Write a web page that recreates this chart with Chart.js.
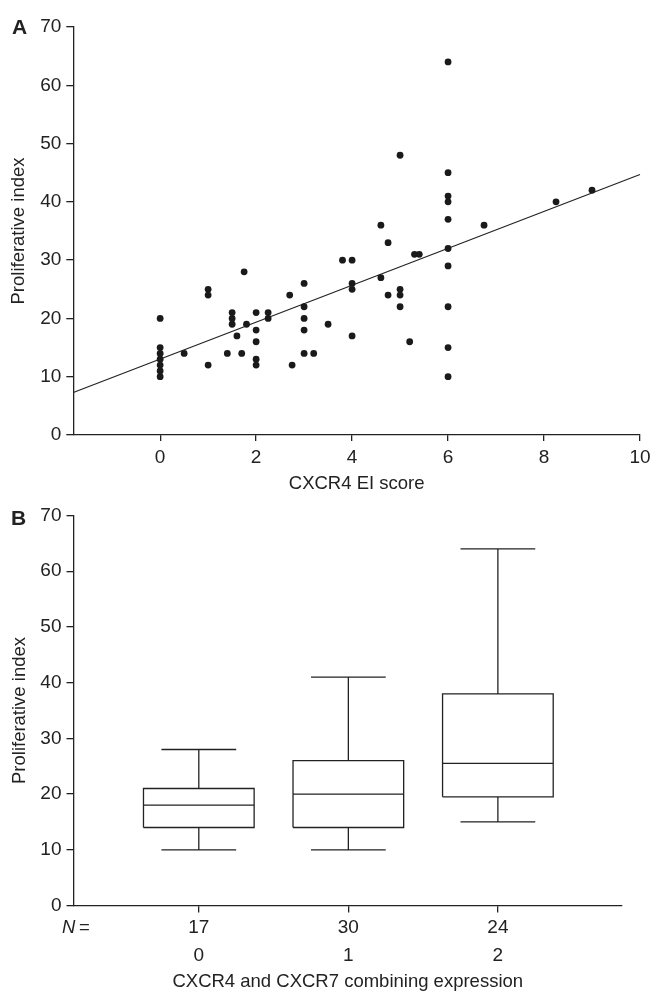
<!DOCTYPE html>
<html>
<head>
<meta charset="utf-8">
<script src="https://cdn.jsdelivr.net/npm/chart.js@4/dist/chart.umd.min.js"></script>
<style>
  html, body { margin: 0; padding: 0; background: #fff; }
  body { width: 652px; height: 992px; position: relative; overflow: hidden;
         font-family: "Liberation Sans", Arial, sans-serif; color: #222; }
  .cv { position: absolute; left: 0; }
  .panel { position: absolute; font-weight: bold; font-size: 21px; line-height: 21px; }
  .nlab { position: absolute; font-size: 18.5px; line-height: 18.5px; white-space: nowrap; }
</style>
</head>
<body>
<div class="cv" style="top:0;width:652px;height:496px;"><canvas id="chartA" width="652" height="496"></canvas></div>
<div class="cv" style="top:496px;width:652px;height:496px;"><canvas id="chartB" width="652" height="496"></canvas></div>
<div class="panel" style="left:12px;top:15.5px;">A</div>
<div class="panel" style="left:11px;top:506.5px;">B</div>
<div class="nlab" style="left:62px;top:917.5px;"><i>N</i>&thinsp;=</div>
<script>
// ---------- Panel A data: CXCR4 EI score vs proliferative index ----------
const eiScore = [
  0,0,0,0,0,0,0, 0.5, 1,1,1, 1.4, 1.5,1.5,1.5, 1.6, 1.7, 1.75, 1.8,
  2,2,2,2,2, 2.25,2.25, 2.7, 2.75, 3,3,3,3,3, 3.2, 3.5, 3.8, 4,4,4,4,
  4.6,4.6, 4.75,4.75, 5,5,5,5, 5.2, 5.3, 5.4,
  6,6,6,6,6,6,6,6,6,6, 6.75, 8.25, 9
];
const prolifIndex = [
  20,15,14,13,12,11,10, 14, 25,24,12, 14, 21,20,19, 17, 14, 28, 19,
  21,18,16,13,12, 21,20, 24, 12, 26,22,20,18,14, 14, 19, 30, 30,26,25,17,
  36,27, 33,24, 48,25,24,22, 16, 31, 31,
  64,45,41,40,37,32,29,22,15,10, 36, 40, 42
];
// regression line end points
const fitX = [-1.81, 10];
const fitY = [7.3, 44.7];
const xTicksA = [0, 2, 4, 6, 8, 10];
const yTicks = [0, 10, 20, 30, 40, 50, 60, 70];

// ---------- Panel B data: box plots ----------
const groups = ['0', '1', '2'];
const groupN = [17, 30, 24];
const whiskLow = [10, 10, 15];
const q1 = [14, 14, 19.5];
const median = [18, 20, 25.5];
const q3 = [21, 26, 38];
const whiskHigh = [28, 41, 64];

const INK = '#222';
const FONT = '"Liberation Sans", Arial, sans-serif';
const TICK_FONT = { family: FONT, size: 19 };
const TITLE_FONT = { family: FONT, size: 18.5, lineHeight: 1 };

function axisCommon(tickLen, pad) {
  return {
    grid: { display: true, drawOnChartArea: false, drawTicks: true, tickLength: tickLen, color: INK, lineWidth: 1.3 },
    border: { display: true, color: INK, width: 1.3 },
    ticks: { color: INK, font: TICK_FONT, padding: pad }
  };
}

// ---------- Chart A ----------
const ctxA = document.getElementById('chartA');
new Chart(ctxA, {
  type: 'scatter',
  data: {
    datasets: [
      {
        data: eiScore.map((x, i) => ({ x: x, y: prolifIndex[i] })),
        pointRadius: 3.4, pointBackgroundColor: '#1a1a1a', pointBorderWidth: 0, showLine: false
      },
      {
        data: fitX.map((x, i) => ({ x: x, y: fitY[i] })),
        showLine: true, pointRadius: 0, borderColor: INK, borderWidth: 1.2, fill: false
      }
    ]
  },
  options: {
    animation: false, responsive: false, maintainAspectRatio: false,
    layout: { padding: { top: 27, right: 12, left: 0, bottom: 0 } },
    plugins: { legend: { display: false }, tooltip: { enabled: false } },
    clip: false,
    scales: {
      x: Object.assign(axisCommon(6, 5), {
        type: 'linear', min: -1.81, max: 10,
        afterBuildTicks: s => { s.ticks = xTicksA.map(v => ({ value: v })); },
        afterFit: s => { s.height = 61; s.paddingLeft = 0; s.paddingRight = 0; },
        title: { display: true, text: 'CXCR4 EI score', color: INK, font: TITLE_FONT, padding: { top: 0, bottom: 3 } }
      }),
      y: Object.assign(axisCommon(7, 5), {
        type: 'linear', min: 0, max: 70,
        afterBuildTicks: s => { s.ticks = yTicks.map(v => ({ value: v })); },
        afterFit: s => { s.width = 73.3; s.paddingTop = 0; s.paddingBottom = 0; },
        title: { display: true, text: 'Proliferative index', color: INK, font: TITLE_FONT, padding: { top: 10, bottom: 0 } }
      })
    }
  }
});

// ---------- Chart B ----------
const BOX_HW = 0.37, CAP_HW = 0.25;
function boxOutline(i) {
  const c = i, pts = [];
  const seg = (a) => { a.forEach(p => pts.push(p)); pts.push({ x: c, y: null }); };
  // box
  seg([{ x: c - BOX_HW, y: q1[i] }, { x: c + BOX_HW, y: q1[i] }, { x: c + BOX_HW, y: q3[i] },
       { x: c - BOX_HW, y: q3[i] }, { x: c - BOX_HW, y: q1[i] }]);
  // median
  seg([{ x: c - BOX_HW, y: median[i] }, { x: c + BOX_HW, y: median[i] }]);
  // upper whisker + cap
  seg([{ x: c, y: q3[i] }, { x: c, y: whiskHigh[i] }]);
  seg([{ x: c - CAP_HW, y: whiskHigh[i] }, { x: c + CAP_HW, y: whiskHigh[i] }]);
  // lower whisker + cap
  seg([{ x: c, y: q1[i] }, { x: c, y: whiskLow[i] }]);
  seg([{ x: c - CAP_HW, y: whiskLow[i] }, { x: c + CAP_HW, y: whiskLow[i] }]);
  return pts;
}

const ctxB = document.getElementById('chartB');
new Chart(ctxB, {
  type: 'scatter',
  data: {
    datasets: groups.map((g, i) => ({
      data: boxOutline(i), showLine: true, spanGaps: false, pointRadius: 0,
      borderColor: INK, borderWidth: 1.3, fill: false
    }))
  },
  options: {
    animation: false, responsive: false, maintainAspectRatio: false,
    layout: { padding: { top: 19.5, right: 30, left: 0, bottom: 0 } },
    plugins: { legend: { display: false }, tooltip: { enabled: false } },
    scales: {
      x: {
        type: 'linear', min: -0.838, max: 2.83,
        grid: { display: true, drawOnChartArea: false, drawTicks: true, tickLength: 7, color: INK, lineWidth: 1.3 },
        border: { display: true, color: INK, width: 1.3 },
        ticks: {
          color: INK, font: { family: FONT, size: 19, lineHeight: 28.3 / 19 }, padding: 1,
          callback: (v, idx) => [String(groupN[idx]), groups[idx]]
        },
        afterBuildTicks: s => { s.ticks = groups.map((g, i) => ({ value: i })); },
        afterFit: s => { s.height = 86.5; s.paddingLeft = 0; s.paddingRight = 0; },
        title: { display: true, text: 'CXCR4 and CXCR7 combining expression', color: INK, font: TITLE_FONT, padding: { top: 0, bottom: 0.5 } }
      },
      y: Object.assign(axisCommon(7, 5), {
        type: 'linear', min: 0, max: 70,
        afterBuildTicks: s => { s.ticks = yTicks.map(v => ({ value: v })); },
        afterFit: s => { s.width = 73.5; s.paddingTop = 0; s.paddingBottom = 0; },
        title: { display: true, text: 'Proliferative index', color: INK, font: TITLE_FONT, padding: { top: 11, bottom: 0 } }
      })
    }
  }
});
</script>
</body>
</html>
